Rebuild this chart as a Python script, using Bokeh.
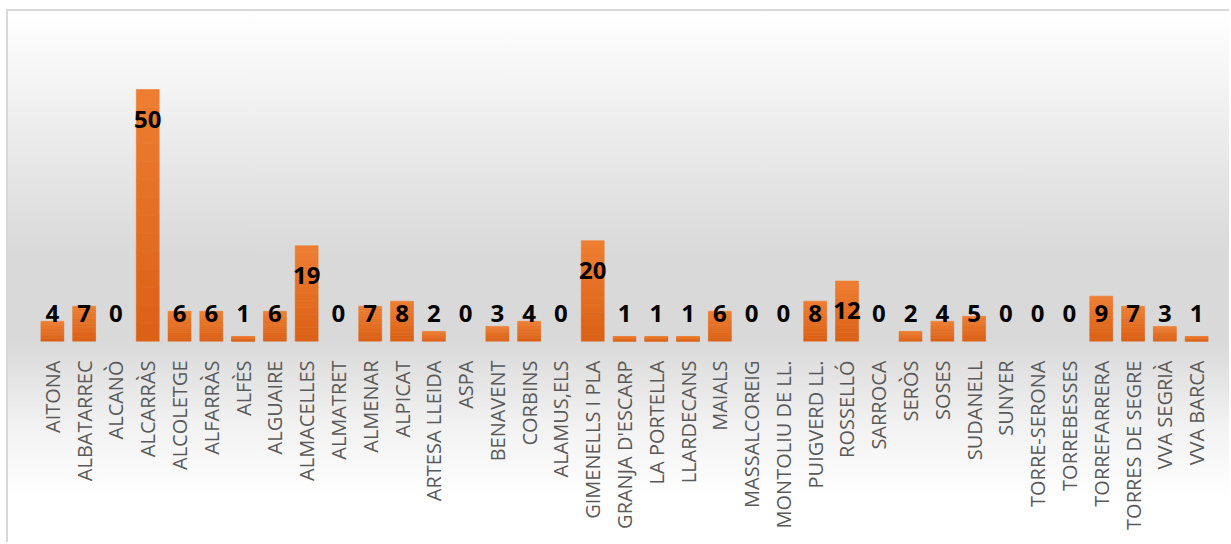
import math
from bokeh.plotting import figure
from bokeh.models import ColumnDataSource, FactorRange, Range1d
from bokeh.core.properties import value
from bokeh.embed import file_html
from bokeh.resources import INLINE

municipalities = ["AITONA", "ALBATARREC", "ALCANÒ", "ALCARRÀS", "ALCOLETGE", "ALFARRÀS", "ALFÈS",
                  "ALGUAIRE", "ALMACELLES", "ALMATRET", "ALMENAR", "ALPICAT", "ARTESA LLEIDA", "ASPA",
                  "BENAVENT", "CORBINS", "ALAMUS,ELS", "GIMENELLS I PLA", "GRANJA D'ESCARP",
                  "LA PORTELLA", "LLARDECANS", "MAIALS", "MASSALCOREIG", "MONTOLIU DE LL.",
                  "PUIGVERD LL.", "ROSSELLÓ", "SARROCA", "SERÒS", "SOSES", "SUDANELL", "SUNYER",
                  "TORRE-SERONA", "TORREBESSES", "TORREFARRERA", "TORRES DE SEGRE", "VVA SEGRIÀ",
                  "VVA BARCA"]
counts = [4, 7, 0, 50, 6, 6, 1, 6, 19, 0, 7, 8, 2, 0, 3, 4, 0, 20, 1, 1, 1, 6, 0, 0,
          8, 12, 0, 2, 4, 5, 0, 0, 0, 9, 7, 3, 1]

p = figure(width=1223, height=533, output_backend="svg", toolbar_location=None,
           x_range=FactorRange(factors=municipalities, range_padding=0),
           y_range=Range1d(0, 63.7),
           min_border_left=28, min_border_right=19, min_border_top=9, min_border_bottom=203)
p.styles = {"background": "linear-gradient(to bottom, #ffffff 0%, #d9d9d9 46%, #d9d9d9 62%, #f2f2f2 78%, #ffffff 92%, #ffffff 100%)",
            "border-top": "2px solid #d9d9d9", "border-left": "2px solid #d9d9d9",
            "margin-left": "6px", "margin-top": "9px"}
p.background_fill_color = None
p.border_fill_color = None
p.outline_line_color = None
p.grid.visible = False
p.yaxis.visible = False

# bars drawn as stacked slices to imitate the vertical gradient
N = 14
top_rgb = (237, 125, 49)
bot_rgb = (219, 97, 22)
xs, bots, tops, cols = [], [], [], []
for c, v in zip(municipalities, counts):
    if v <= 0:
        continue
    for i in range(N):
        t = i / (N - 1)
        r = round(bot_rgb[0] + (top_rgb[0] - bot_rgb[0]) * t)
        g = round(bot_rgb[1] + (top_rgb[1] - bot_rgb[1]) * t)
        b = round(bot_rgb[2] + (top_rgb[2] - bot_rgb[2]) * t)
        xs.append(c)
        bots.append(v * i / N)
        tops.append(v * (i + 1) / N)
        cols.append("#%02x%02x%02x" % (r, g, b))
p.vbar(x=xs, bottom=bots, top=tops, width=0.72, fill_color=cols, line_color=cols, line_width=0.6)

label_y = [max(v - 5.85, 5.46) for v in counts]
src = ColumnDataSource(dict(x=municipalities, y=label_y, t=[str(v) for v in counts]))
p.text(x="x", y="y", text="t", source=src, text_align="center", text_baseline="middle",
       text_font=value("Open Sans"), text_font_style="bold", text_font_size="24px",
       text_color="#000000")

ax = p.xaxis[0]
ax.major_label_orientation = math.pi / 2
ax.axis_line_color = None
ax.major_tick_line_color = None
ax.minor_tick_line_color = None
ax.major_label_standoff = 13
ax.major_label_text_font = "Open Sans"
ax.major_label_text_font_size = "20px"
ax.major_label_text_color = "#595959"

open("out.html", "w").write(file_html(p, INLINE))
